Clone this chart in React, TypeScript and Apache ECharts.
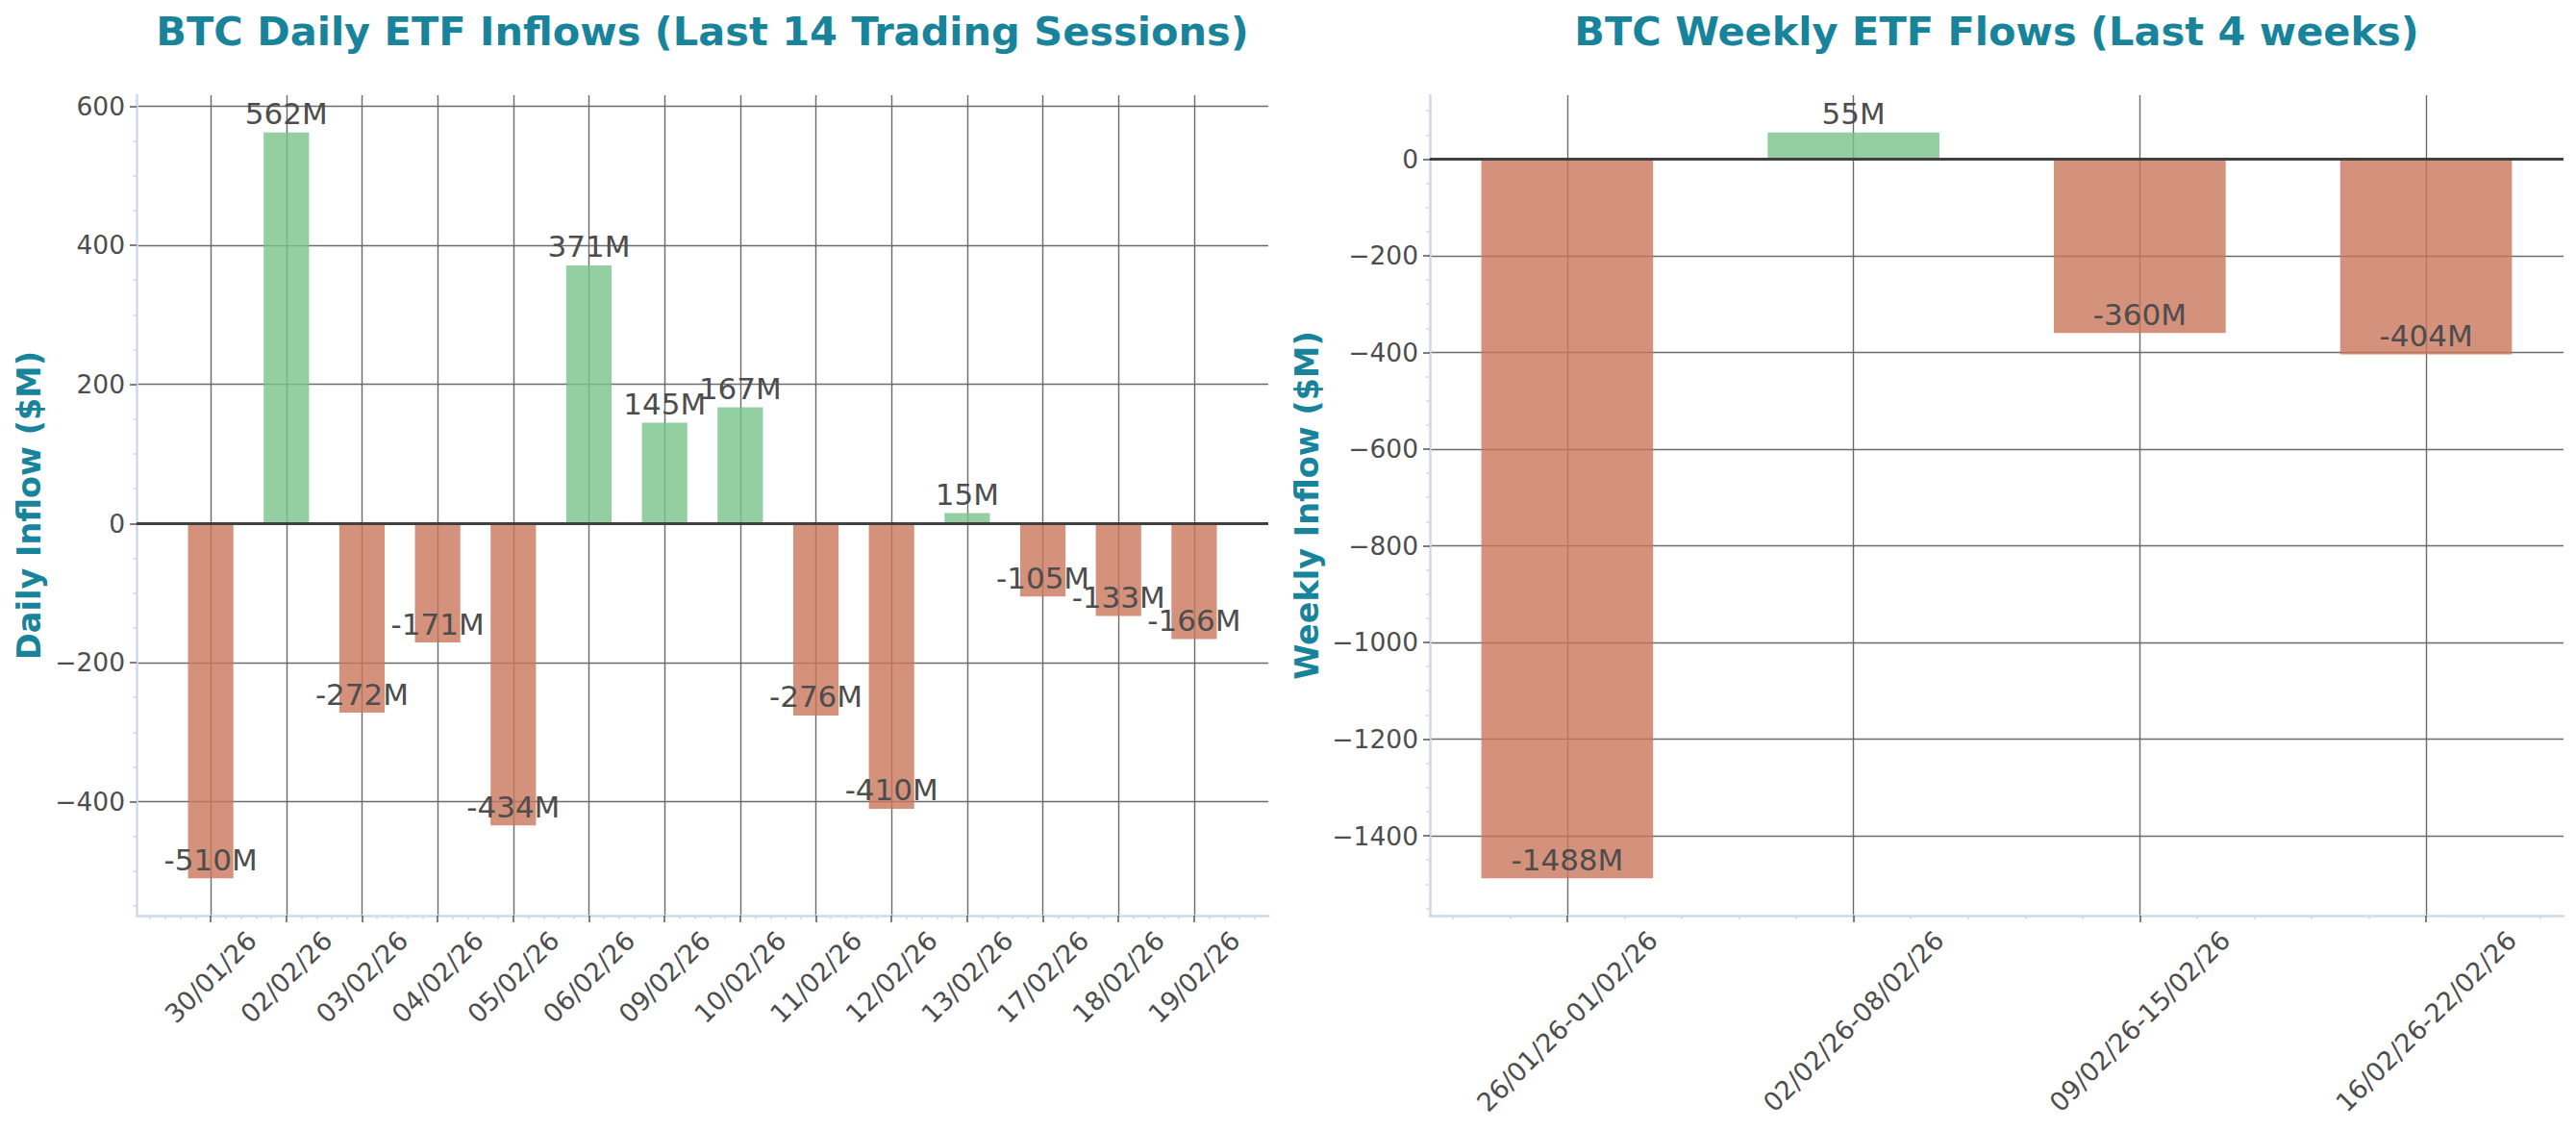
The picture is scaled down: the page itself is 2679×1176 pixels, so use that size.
import { useEffect, useRef } from "react";
import * as echarts from "echarts";

const DAILY_DATES = [
    "30/01/26", "02/02/26", "03/02/26", "04/02/26", "05/02/26", "06/02/26", "09/02/26",
    "10/02/26", "11/02/26", "12/02/26", "13/02/26", "17/02/26", "18/02/26", "19/02/26",
];
const DAILY_FLOWS = [-510, 562, -272, -171, -434, 371, 145, 167, -276, -410, 15, -105, -133, -166];

const WEEK_RANGES = ["26/01/26-01/02/26", "02/02/26-08/02/26", "09/02/26-15/02/26", "16/02/26-22/02/26"];
const WEEKLY_FLOWS = [-1488, 55, -360, -404];

const W = 2679;
const H = 1176;
const FONT = "DejaVu Sans";
const TEAL = "#17849b";
const INK = "#4d4d4d";
const GRID_LINE = "#6b6b6b";
const SPINE = "#d0d8e8";
const UP = "rgba(120,195,137,0.8)";
const DOWN = "rgba(201,117,91,0.8)";

interface Panel {
    title: string;
    yName: string;
    cats: string[];
    values: number[];
    left: number; // plot area, px
    right: number;
    nameGap: number;
    labelMargin: number;
}

const TOP = 99;
const BOTTOM = 952;

/** Limites façon matplotlib : barres de 0.6, marges de 5 %. */
function limits(values: number[]) {
    const lo = Math.min(0, ...values);
    const hi = Math.max(0, ...values);
    const yPad = (hi - lo) * 0.05;
    const xPad = (values.length - 0.4) * 0.05;
    return { yMin: lo - yPad, yMax: hi + yPad, xMin: -0.3 - xPad, xMax: values.length - 0.7 + xPad };
}

function majors(min: number, max: number, step: number) {
    const out: number[] = [];
    for (let v = Math.ceil(min / step) * step; v <= max; v += step) out.push(v);
    return out;
}

function buildOption(panels: Panel[]) {
    const tickStyle = { color: "#555555", width: 1.5 };
    const minorStyle = { color: SPINE, width: 1.5 };
    const gridStyle = { color: GRID_LINE, width: 1.4 };
    const spineStyle = { color: SPINE, width: 2.5 };

    return {
        animation: false,
        backgroundColor: "#ffffff",
        title: panels.map((p) => ({
            text: p.title,
            left: (p.left + p.right) / 2,
            top: 11,
            padding: 0,
            textAlign: "center",
            textStyle: { fontSize: 41.5, fontWeight: "bold", color: TEAL, fontFamily: FONT },
        })),
        grid: panels.map((p) => ({
            left: p.left,
            width: p.right - p.left,
            top: TOP,
            height: BOTTOM - TOP,
            containLabel: false,
        })),
        xAxis: panels.map((p, k) => {
            const lim = limits(p.values);
            const idx = p.cats.map((_, i) => i);
            return {
                type: "value",
                gridIndex: k,
                min: lim.xMin,
                max: lim.xMax,
                minInterval: 1,
                maxInterval: 1,
                axisLine: { show: true, onZero: false, lineStyle: spineStyle },
                axisTick: { show: true, length: 7, lineStyle: tickStyle, customValues: idx },
                minorTick: { show: true, splitNumber: 5, length: 4, lineStyle: minorStyle },
                axisLabel: {
                    customValues: idx,
                    rotate: 45,
                    align: "center",
                    verticalAlign: "middle",
                    margin: p.labelMargin,
                    fontSize: 27,
                    color: INK,
                    fontFamily: FONT,
                    formatter: (v: number) => (Number.isInteger(v) ? p.cats[v] ?? "" : ""),
                },
                splitLine: { show: true, lineStyle: gridStyle },
            };
        }),
        yAxis: panels.map((p, k) => {
            const lim = limits(p.values);
            const ticks = majors(lim.yMin, lim.yMax, 200);
            return {
                type: "value",
                gridIndex: k,
                min: lim.yMin,
                max: lim.yMax,
                minInterval: 200,
                maxInterval: 200,
                name: p.yName,
                nameLocation: "middle",
                nameGap: p.nameGap,
                nameTextStyle: { fontSize: 33.5, fontWeight: "bold", color: TEAL, fontFamily: FONT },
                axisLine: { show: true, onZero: false, lineStyle: spineStyle },
                axisTick: { show: true, length: 7, lineStyle: tickStyle, customValues: ticks },
                minorTick: { show: true, splitNumber: 4, length: 4, lineStyle: minorStyle },
                axisLabel: {
                    customValues: ticks,
                    margin: 12,
                    fontSize: 26.5,
                    color: INK,
                    fontFamily: FONT,
                    formatter: (v: number) => (v < 0 ? `\u2212${-v}` : `${v}`),
                },
                splitLine: { show: true, lineStyle: gridStyle },
            };
        }),
        series: panels.map((p, k) => {
            const lim = limits(p.values);
            const unit = (p.right - p.left) / (lim.xMax - lim.xMin);
            return {
                type: "bar",
                xAxisIndex: k,
                yAxisIndex: k,
                barWidth: unit * 0.6,
                data: p.values.map((v, i) => ({
                    value: [i, v],
                    itemStyle: { color: v >= 0 ? UP : DOWN },
                    label: { position: v >= 0 ? "top" : "insideBottom" },
                })),
                label: {
                    show: true,
                    distance: 4,
                    fontSize: 31,
                    color: INK,
                    fontFamily: FONT,
                    textBorderWidth: 0,
                    formatter: (d: { value: number[] }) => `${d.value[1]}M`,
                },
                // ligne du zéro, par-dessus les barres
                markLine: {
                    silent: true,
                    symbol: ["none", "none"],
                    label: { show: false },
                    emphasis: { disabled: true },
                    lineStyle: { color: "#404040", width: 2.8, type: "solid" },
                    data: [{ yAxis: 0 }],
                },
            };
        }),
    };
}

export default function App() {
    const ref = useRef<HTMLDivElement>(null);

    useEffect(() => {
        if (!ref.current) return;
        const chart = echarts.init(ref.current, undefined, { renderer: "svg" });
        chart.setOption(
            buildOption([
                {
                    title: "BTC Daily ETF Inflows (Last 14 Trading Sessions)",
                    yName: "Daily Inflow ($M)",
                    cats: DAILY_DATES,
                    values: DAILY_FLOWS,
                    left: 142,
                    right: 1319,
                    nameGap: 95,
                    labelMargin: 64,
                },
                {
                    title: "BTC Weekly ETF Flows (Last 4 weeks)",
                    yName: "Weekly Inflow ($M)",
                    cats: WEEK_RANGES,
                    values: WEEKLY_FLOWS,
                    left: 1487,
                    right: 2666,
                    nameGap: 111,
                    labelMargin: 110,
                },
            ]),
        );
        return () => chart.dispose();
    }, []);

    return <div ref={ref} style={{ position: "fixed", left: 0, top: 0, width: W, height: H }} />;
}
